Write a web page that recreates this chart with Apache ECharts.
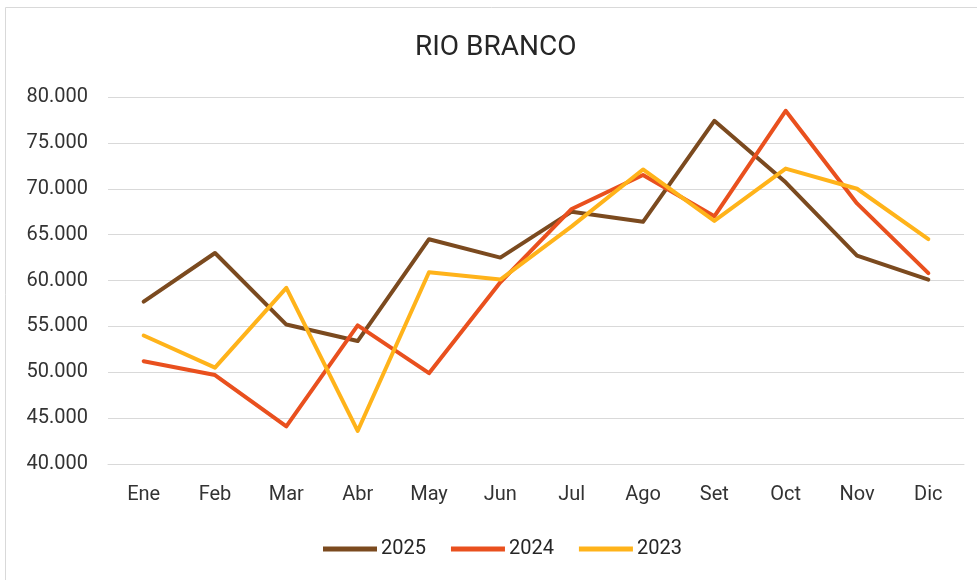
<!DOCTYPE html>
<html>
<head>
<meta charset="utf-8">
<title>RIO BRANCO</title>
<script src="https://cdn.jsdelivr.net/npm/echarts@6/dist/echarts.min.js"></script>
<style>
  html, body { margin: 0; padding: 0; background: #fff; }
  #chart { width: 977px; height: 580px; }
</style>
</head>
<body>
<div id="chart"></div>
<script>
// valores
const months = ['Ene', 'Feb', 'Mar', 'Abr', 'May', 'Jun', 'Jul', 'Ago', 'Set', 'Oct', 'Nov', 'Dic']
const y2025 = [57700, 63000, 55200, 53400, 64500, 62500, 67500, 66400, 77400, 70700, 62700, 60100]
const y2024 = [51200, 49700, 44100, 55100, 49900, 59800, 67800, 71500, 67000, 78500, 68400, 60800]
const y2023 = [54000, 50500, 59200, 43600, 60900, 60100, 65900, 72100, 66500, 72200, 70000, 64500]

const COLOR_2025 = '#7b4a1f'
const COLOR_2024 = '#e9501e'
const COLOR_2023 = '#ffb31a'
const FONT = 'Roboto, "Liberation Sans", sans-serif'

const chart = echarts.init(document.getElementById('chart'))

function line(name, data, color) {
  return {
    name, type: 'line', data,
    symbol: 'none',
    lineStyle: { color, width: 4, cap: 'round', join: 'round' },
    itemStyle: { color },
    animation: false
  }
}

chart.setOption({
  animation: false,
  textStyle: { fontFamily: FONT },
  graphic: [{
    type: 'rect', silent: true,
    shape: { x: 5.5, y: 7.5, width: 1000, height: 600 },
    style: { fill: 'none', stroke: '#d9d9d9', lineWidth: 1 }
  }],
  title: {
    text: 'RIO BRANCO',
    left: 415, top: 34, padding: 0,
    textStyle: { fontFamily: FONT, fontSize: 28, fontWeight: 'normal', color: '#262626' }
  },
  grid: { left: 108, right: 13, top: 97, bottom: 116, containLabel: false },
  xAxis: {
    type: 'category', data: months, boundaryGap: true,
    axisLine: { lineStyle: { color: '#d9d9d9', width: 1 } },
    axisTick: { show: false },
    axisLabel: { color: '#333333', fontSize: 20, margin: 21, fontFamily: FONT },
    splitLine: { show: false }
  },
  yAxis: {
    type: 'value', min: 40000, max: 80000, interval: 5000,
    axisLine: { show: false }, axisTick: { show: false },
    splitLine: { lineStyle: { color: '#d9d9d9', width: 1 } },
    axisLabel: {
      color: '#333333', fontSize: 20, margin: 20, fontFamily: FONT,
      formatter: v => (v / 1000) + '.000'
    }
  },
  legend: {
    left: 323, top: 539, padding: 0,
    icon: 'rect', itemWidth: 54, itemHeight: 5, itemGap: 25,
    textStyle: { color: '#262626', fontSize: 20, fontFamily: FONT, padding: [0, 0, 0, -1] },
    data: ['2025', '2024', '2023']
  },
  series: [
    line('2025', y2025, COLOR_2025),
    line('2024', y2024, COLOR_2024),
    line('2023', y2023, COLOR_2023)
  ]
})

window.addEventListener('resize', () => chart.resize())
</script>
</body>
</html>
